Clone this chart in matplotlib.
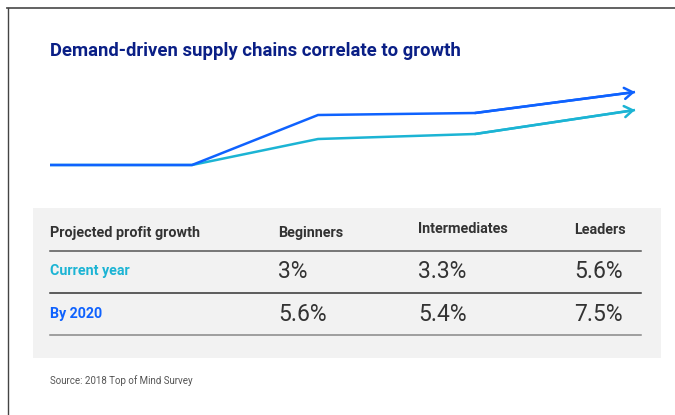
import matplotlib
matplotlib.use("Agg")
import matplotlib.pyplot as plt
from matplotlib.patches import Rectangle

# ---- data ----
title = "Demand-driven supply chains correlate to growth"
stage_x = [0, 142, 268, 425, 585]
line_current = [0, 0, 26, 31, 55]
line_2020 = [0, 0, 50, 52, 73]

header_label = "Projected profit growth"
groups = ["Beginners", "Intermediates", "Leaders"]
row_labels = ["Current year", "By 2020"]
current_year = ["3%", "3.3%", "5.6%"]
by_2020 = ["5.6%", "5.4%", "7.5%"]
source = "Source: 2018 Top of Mind Survey"

BLUE = "#0f62fe"
CYAN = "#1cb4d4"
NAVY = "#0a1f86"
DARK = "#333333"

plt.rcParams['font.family'] = ['Roboto', 'DejaVu Sans']

W, H = 675, 415
fig = plt.figure(figsize=(W / 100, H / 100), dpi=100)
fig.patch.set_facecolor("white")

bg = fig.add_axes([0, 0, 1, 1])
bg.set_xlim(0, W)
bg.set_ylim(H, 0)
bg.axis("off")

# frame (top and left)
bg.plot([7, W], [8, 8], color="#555555", lw=1.3)
bg.plot([7.5, 7.5], [8, H], color="#444444", lw=1.0)

# title
bg.text(50, 51, title, color=NAVY, fontsize=13.3, fontweight="bold",
        va="center", ha="left")

# table background
bg.add_patch(Rectangle((33, 208), 628, 150, facecolor="#f2f2f2",
                       edgecolor="none", zorder=0))

col_x = [278, 418, 574]
header_y = [233, 229, 230]
bg.text(50, 233, header_label, color=DARK, fontsize=10.4, fontweight="bold",
        va="center", ha="left")
for x, y, g in zip(col_x, header_y, groups):
    bg.text(x, y, g, color=DARK, fontsize=10.4, fontweight="bold",
            va="center", ha="left")

bg.plot([50, 641], [250.5, 250.5], color="#555555", lw=1.1)
bg.plot([50, 641], [292.5, 292.5], color="#333333", lw=1.1)
bg.plot([50, 641], [334.5, 334.5], color="#888888", lw=1.1)

row_y = [271, 314]
row_colors = [CYAN, BLUE]
for y, lab, col, vals in zip(row_y, row_labels, row_colors, [current_year, by_2020]):
    bg.text(50, y, lab, color=col, fontsize=10.3, fontweight="bold",
            va="center", ha="left")
    for x, v in zip(col_x, vals):
        bg.text(x, y, v, color=DARK, fontsize=16.5, va="center", ha="left")

bg.text(50, 381, source, color="#555555", fontsize=7.0, va="center", ha="left")

# lines
la = fig.add_axes([50 / W, 1 - 175 / H, (W - 50) / W, 95 / H])
la.set_xlim(0, W - 50)
la.set_ylim(-10, 85)
la.axis("off")
for ys, col in [(line_current, CYAN), (line_2020, BLUE)]:
    la.plot(stage_x, ys, color=col, lw=1.8, solid_capstyle="butt",
            solid_joinstyle="miter")
    la.annotate("", xy=(stage_x[-1], ys[-1]), xytext=(stage_x[-2], ys[-2]),
                arrowprops=dict(arrowstyle="->,head_length=0.6,head_width=0.4",
                                color=col, lw=1.8, shrinkA=0, shrinkB=0))

fig.savefig("out.png", dpi=100, facecolor="white")
